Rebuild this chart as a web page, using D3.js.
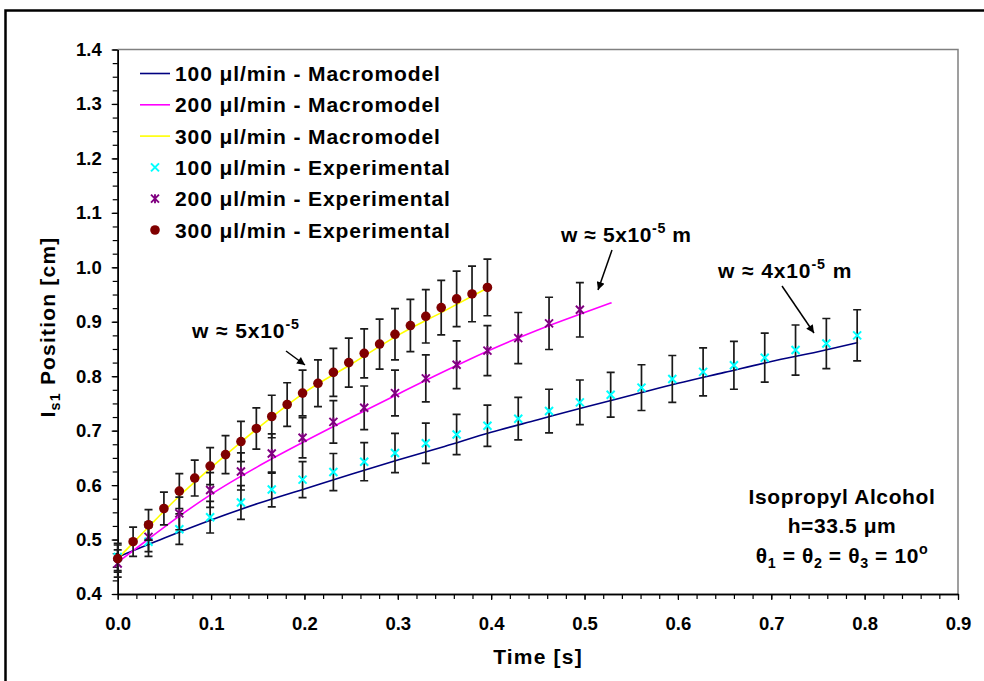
<!DOCTYPE html>
<html><head><meta charset="utf-8">
<script src="https://cdn.jsdelivr.net/npm/d3@7"></script>
<style>
body{margin:0;background:#fff}
text{font-family:Arial,"Liberation Sans",sans-serif;font-weight:bold;fill:#000}
</style>
</head><body>
<svg id="chart" width="984" height="681"></svg>
<script>
// ---------- data ----------
const xTickValues = [0,0.1,0.2,0.3,0.4,0.5,0.6,0.7,0.8,0.9];
const yTickValues = [0.4,0.5,0.6,0.7,0.8,0.9,1.0,1.1,1.2,1.3,1.4];

const seriesNames = [
  "100 μl/min - Macromodel","200 μl/min - Macromodel","300 μl/min - Macromodel",
  "100 μl/min - Experimental","200 μl/min - Experimental","300 μl/min - Experimental"];

// Macromodel curves
const tModel100 = [0,0.05,0.1,0.15,0.2,0.25,0.3,0.35,0.4,0.45,0.5,0.55,0.6,0.65,0.7,0.75,0.793];
const model100  = [0.468,0.503,0.536,0.566,0.593,0.620,0.646,0.671,0.697,0.720,0.743,0.765,0.787,0.807,0.827,0.845,0.862];
const tModel200 = [0,0.033,0.066,0.1,0.15,0.2,0.25,0.3,0.35,0.4,0.45,0.5,0.529];
const model200  = [0.458,0.501,0.543,0.583,0.634,0.680,0.724,0.767,0.809,0.849,0.885,0.917,0.935];
const tModel300 = [0,0.0165,0.033,0.05,0.066,0.1,0.132,0.165,0.2,0.25,0.3,0.35,0.396];
const model300  = [0.465,0.494,0.523,0.553,0.580,0.632,0.679,0.725,0.770,0.822,0.875,0.920,0.962];

// Experimental points
const tExp100 = [0,0.033,0.066,0.099,0.132,0.165,0.198,0.231,0.264,0.297,0.33,0.363,0.396,0.429,0.462,0.495,0.528,0.561,0.594,0.627,0.66,0.693,0.726,0.759,0.792];
const exp100  = [0.468,0.496,0.519,0.541,0.568,0.592,0.610,0.624,0.643,0.659,0.677,0.693,0.709,0.722,0.736,0.752,0.766,0.779,0.795,0.808,0.820,0.834,0.848,0.860,0.875];
const err100  = [0.025,0.027,0.028,0.029,0.031,0.032,0.033,0.034,0.035,0.036,0.037,0.037,0.038,0.039,0.040,0.041,0.041,0.042,0.043,0.044,0.044,0.045,0.046,0.046,0.047];

const tExp200 = [0,0.033,0.066,0.099,0.132,0.165,0.198,0.231,0.264,0.297,0.33,0.363,0.396,0.429,0.462,0.495];
const exp200  = [0.456,0.505,0.548,0.591,0.625,0.658,0.687,0.716,0.742,0.769,0.796,0.821,0.847,0.870,0.897,0.922];
const err200  = [0.025,0.027,0.030,0.032,0.034,0.036,0.037,0.039,0.040,0.042,0.043,0.044,0.046,0.047,0.048,0.050];

const tExp300 = [0,0.0165,0.033,0.0495,0.066,0.0825,0.099,0.1155,0.132,0.1485,0.165,0.1815,0.198,0.2145,0.231,0.2475,0.264,0.2805,0.297,0.3135,0.33,0.3465,0.363,0.3795,0.396];
const exp300  = [0.465,0.496,0.527,0.557,0.589,0.613,0.635,0.656,0.680,0.704,0.726,0.748,0.769,0.787,0.807,0.825,0.842,0.859,0.877,0.893,0.910,0.926,0.942,0.951,0.963];
const err300  = [0.025,0.027,0.028,0.030,0.032,0.033,0.034,0.035,0.037,0.038,0.039,0.040,0.042,0.043,0.044,0.045,0.045,0.046,0.047,0.048,0.049,0.050,0.051,0.051,0.052];

// ---------- drawing ----------
const svg = d3.select("#chart");
const plot = {left:117.7, right:958, top:49.5, bottom:594};
const x = d3.scaleLinear().domain([0,0.9]).range([plot.left, plot.right]);
const y = d3.scaleLinear().domain([0.4,1.4]).range([plot.bottom, plot.top]);

const colors = {m100:"#000080", m200:"#FF00FF", m300:"#FFFF00", e100:"#00FFFF", e200:"#800080", e300:"#800000"};

// chart frame
svg.append("rect").attr("x",5.5).attr("y",10.5).attr("width",1000).attr("height",700)
  .attr("fill","none").attr("stroke","#000").attr("stroke-width",2.5);

// plot area border (gray top/right)
svg.append("path")
  .attr("d",`M${plot.left},${plot.top}H${plot.right}V${plot.bottom}`)
  .attr("fill","none").attr("stroke","#808080").attr("stroke-width",1.5);

// axes
const fmt = d3.format(".1f");
const minorX = d3.range(0, 0.9001, 0.02);
const minorY = d3.range(0.4, 1.4001, 0.025);

const gx = svg.append("g").attr("transform",`translate(0,${plot.bottom})`);
gx.call(d3.axisBottom(x).tickValues(minorX).tickFormat("").tickSize(5).tickSizeOuter(0));
gx.append("g").call(d3.axisBottom(x).tickValues(xTickValues).tickFormat(fmt).tickSize(6).tickPadding(17).tickSizeOuter(0));
const gy = svg.append("g").attr("transform",`translate(${plot.left},0)`);
gy.call(d3.axisLeft(y).tickValues(minorY).tickFormat("").tickSize(5).tickSizeOuter(0));
gy.append("g").call(d3.axisLeft(y).tickValues(yTickValues).tickFormat(fmt).tickSize(6).tickPadding(10).tickSizeOuter(0));
svg.selectAll(".domain").attr("stroke","#000").attr("stroke-width",1.5);
svg.selectAll(".tick line").attr("stroke","#000").attr("stroke-width",1.2);
svg.selectAll(".tick text").style("font-size","18.5px").style("font-family","Arial, 'Liberation Sans', sans-serif").style("font-weight","bold").attr("fill","#000");

// rich text helper
function richText(parent, px, py, parts, opts={}) {
  const fs = opts.size || 20;
  const t = parent.append("text").attr("x",px).attr("y",py)
    .style("font-size",fs+"px").style("letter-spacing",(opts.ls!==undefined?opts.ls:1.3)+"px")
    .attr("text-anchor",opts.anchor||"start");
  if (opts.transform) t.attr("transform",opts.transform);
  let shift = 0;
  parts.forEach(p => {
    const [str,kind] = Array.isArray(p) ? p : [p,""];
    let target = 0, size = fs;
    if (kind==="sup") { target = -fs*0.42; size = fs*0.68; }
    if (kind==="sub") { target = fs*0.25; size = fs*0.68; }
    t.append("tspan").attr("dy", target-shift).style("font-size",size+"px").text(str);
    shift = target;
  });
  return t;
}

// model lines
const line = d3.line().x(d=>x(d[0])).y(d=>y(d[1])).curve(d3.curveMonotoneX);
[[tModel100,model100,colors.m100],[tModel200,model200,colors.m200],[tModel300,model300,colors.m300]]
  .forEach(([ts,vs,c]) => {
    svg.append("path").datum(ts.map((t,i)=>[t,vs[i]])).attr("d",line)
      .attr("fill","none").attr("stroke",c).attr("stroke-width",1.6);
  });

// markers
function drawMarker(g, kind, cx, cy) {
  if (kind==="e100") {
    g.append("path").attr("d",`M${cx-4},${cy-4}L${cx+4},${cy+4}M${cx-4},${cy+4}L${cx+4},${cy-4}`)
      .attr("stroke",colors.e100).attr("stroke-width",2).attr("fill","none");
  } else if (kind==="e200") {
    g.append("path").attr("d",`M${cx-4},${cy-4}L${cx+4},${cy+4}M${cx-4},${cy+4}L${cx+4},${cy-4}M${cx},${cy-4.5}L${cx},${cy+4.5}`)
      .attr("stroke",colors.e200).attr("stroke-width",1.9).attr("fill","none");
  } else {
    g.append("circle").attr("cx",cx).attr("cy",cy).attr("r",4.8).attr("fill",colors.e300);
  }
}

// experimental series with error bars
[["e100",tExp100,exp100,err100],["e200",tExp200,exp200,err200],["e300",tExp300,exp300,err300]]
  .forEach(([k,ts,vs,es]) => {
    const g = svg.append("g");
    ts.forEach((t,i) => {
      const cx = x(t), y1 = y(vs[i]+es[i]), y2 = y(vs[i]-es[i]);
      g.append("path").attr("d",`M${cx},${y1}V${y2}M${cx-4},${y1}H${cx+4}M${cx-4},${y2}H${cx+4}`)
        .attr("stroke","#1a1a1a").attr("stroke-width",1.7).attr("fill","none");
    });
    ts.forEach((t,i) => drawMarker(g,k,x(t),y(vs[i])));
  });

// legend
const legend = svg.append("g");
const keys = ["m100","m200","m300","e100","e200","e300"];
seriesNames.forEach((name,i) => {
  const cy = 73.5 + i*31.3;
  if (i<3) {
    legend.append("line").attr("x1",140).attr("x2",170).attr("y1",cy).attr("y2",cy)
      .attr("stroke",colors[keys[i]]).attr("stroke-width",1.6);
  } else {
    drawMarker(legend, keys[i], 155, cy);
  }
  richText(legend, 175, cy+7.5, [name], {ls:0.9, size:21});
});

// axis titles
richText(svg, 538, 664, ["Time [s]"], {anchor:"middle", ls:1.2, size:21});
richText(svg, 0, 0, ["I",["s1","sub"]," Position [cm]"], {anchor:"middle", ls:1.2, size:21,
  transform:"translate(55,327) rotate(-90)"});

// annotations
richText(svg, 192, 338, ["w ≈ 5x10",["-5","sup"]], {ls:0.9, size:21});
richText(svg, 561, 242, ["w ≈ 5x10",["-5","sup"],[" m",""]], {ls:0.6, size:21});
richText(svg, 718, 278, ["w ≈ 4x10",["-5","sup"],[" m",""]], {ls:0.9, size:21});

svg.append("defs").append("marker").attr("id","arrow").attr("viewBox","0 0 10 10")
  .attr("refX",10).attr("refY",5).attr("markerWidth",10).attr("markerHeight",8)
  .attr("markerUnits","userSpaceOnUse").attr("orient","auto")
  .append("path").attr("d","M0,0L10,5L0,10Z").attr("fill","#000");
const arrows = [[286,351,305,365],[612,250,598,290],[782,286,814,333]];
arrows.forEach(a => svg.append("line").attr("x1",a[0]).attr("y1",a[1]).attr("x2",a[2]).attr("y2",a[3])
  .attr("stroke","#000").attr("stroke-width",1.5).attr("marker-end","url(#arrow)"));

// info block
richText(svg, 842, 504, ["Isopropyl Alcohol"], {anchor:"middle", ls:0.6, size:21});
richText(svg, 842, 533, ["h=33.5 μm"], {anchor:"middle", ls:0.6, size:21});
richText(svg, 842, 563, ["θ",["1","sub"],[" = θ",""],["2","sub"],[" = θ",""],["3","sub"],[" = 10",""],["o","sup"]], {anchor:"middle", ls:0.6, size:21});
</script>
</body></html>
